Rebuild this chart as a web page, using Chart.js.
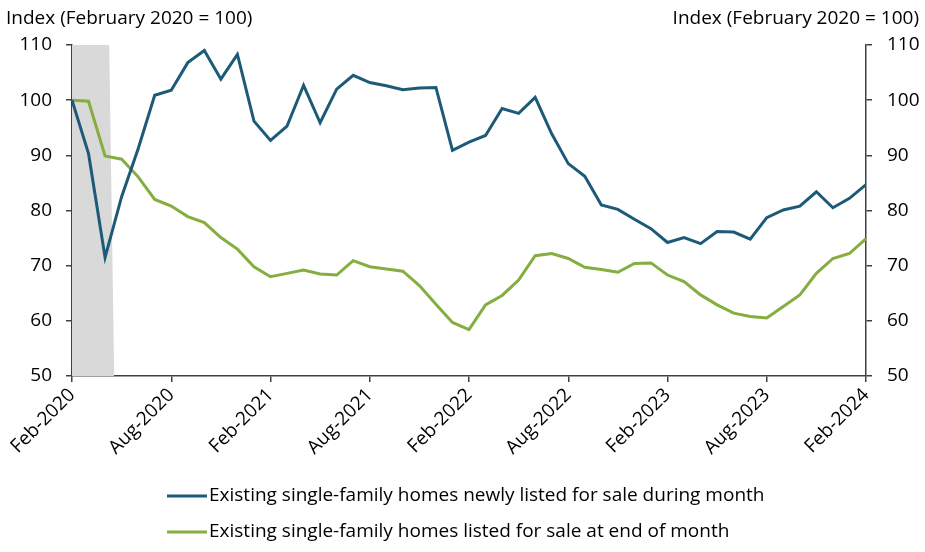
<!DOCTYPE html>
<html>
<head>
<meta charset="utf-8">
<script src="https://cdn.jsdelivr.net/npm/chart.js@4"></script>
<style>
  html, body { margin: 0; padding: 0; background: #fff; }
  #wrap { width: 925px; height: 552px; position: relative; }
</style>
</head>
<body>
<div id="wrap"><canvas id="chart"></canvas></div>
<script>
// Monthly index, Feb-2020 .. Feb-2024 (49 months)
const tickLabels = ['Feb-2020', 'Aug-2020', 'Feb-2021', 'Aug-2021', 'Feb-2022',
  'Aug-2022', 'Feb-2023', 'Aug-2023', 'Feb-2024'];

const newlyListed = [100, 90.3, 71.5, 82.5, 91.2, 100.9, 101.8, 106.8, 109.0, 103.8,
  108.3, 96.2, 92.7, 95.3, 102.7, 95.9, 102.0, 104.5, 103.2, 102.6,
  101.9, 102.2, 102.3, 90.9, 92.4, 93.6, 98.5, 97.6, 100.5, 93.9,
  88.5, 86.2, 81.0, 80.2, 78.4, 76.7, 74.2, 75.1, 74.0, 76.2,
  76.1, 74.8, 78.7, 80.1, 80.8, 83.4, 80.5, 82.2, 84.7];

const endOfMonth = [100, 99.8, 89.9, 89.3, 86.1, 82.0, 80.8, 78.9, 77.8, 75.1,
  73.0, 69.8, 68.0, 68.6, 69.2, 68.5, 68.3, 70.9, 69.8, 69.4,
  69.0, 66.4, 63.0, 59.7, 58.4, 62.9, 64.6, 67.4, 71.8, 72.2,
  71.3, 69.7, 69.3, 68.8, 70.4, 70.5, 68.3, 67.1, 64.7, 62.9,
  61.4, 60.8, 60.5, 62.6, 64.7, 68.6, 71.3, 72.2, 74.9];

// recession shading (month index, index value)
const recessionX = [0, 2.25, 2.55];
const recessionY = [110, 110, 50];

const seriesNames = ['Existing single-family homes newly listed for sale during month',
  'Existing single-family homes listed for sale at end of month'];
const axisTitle = 'Index (February 2020 = 100)';

const BLUE = '#1d5a78';
const GREEN = '#86ad3f';
const AXIS = '#404040';
const FONT = '"Open Sans", "Liberation Sans", sans-serif';
const SIZE = 19;

const toXY = (arr) => arr.map((v, i) => ({ x: i, y: v }));

// axis titles + legend drawn on canvas
const decorations = {
  id: 'decorations',
  afterDraw(chart) {
    const ctx = chart.ctx;
    ctx.save();
    ctx.fillStyle = '#000';
    ctx.font = SIZE + 'px ' + FONT;
    ctx.textBaseline = 'middle';
    ctx.textAlign = 'left';
    ctx.fillText(axisTitle, 6, 19);
    ctx.textAlign = 'right';
    ctx.fillText(axisTitle, 919, 19);

    const colors = [BLUE, GREEN];
    const rows = [496, 532];
    ctx.textAlign = 'left';
    seriesNames.forEach((name, i) => {
      ctx.strokeStyle = colors[i];
      ctx.lineWidth = 3;
      ctx.beginPath();
      ctx.moveTo(167, rows[i]);
      ctx.lineTo(207, rows[i]);
      ctx.stroke();
      ctx.fillStyle = '#000';
      ctx.fillText(name, 209, rows[i]);
    });
    ctx.restore();
  }
};

const yAxis = (position, width, pad) => ({
  type: 'linear',
  position,
  min: 50,
  max: 110,
  afterFit(scale) { scale.width = width; },
  ticks: { stepSize: 10, color: '#000', padding: pad, font: { size: SIZE, family: FONT } },
  grid: { display: true, drawOnChartArea: false, drawTicks: true, tickLength: 6, color: AXIS, lineWidth: 1.5 },
  border: { display: true, color: AXIS, width: 1.5 }
});

new Chart(document.getElementById('chart'), {
  type: 'line',
  data: {
    datasets: [
      {
        label: seriesNames[0],
        data: toXY(newlyListed),
        borderColor: BLUE,
        borderWidth: 3,
        pointRadius: 0,
        tension: 0,
        yAxisID: 'y',
        order: 0
      },
      {
        label: seriesNames[1],
        data: toXY(endOfMonth),
        borderColor: GREEN,
        borderWidth: 3,
        pointRadius: 0,
        tension: 0,
        yAxisID: 'y',
        order: 1
      },
      {
        label: 'Recession',
        data: recessionX.map((x, i) => ({ x, y: recessionY[i] })),
        borderWidth: 0,
        borderColor: 'rgba(0,0,0,0)',
        backgroundColor: '#d9d9d9',
        fill: 'start',
        pointRadius: 0,
        yAxisID: 'y',
        order: 10
      }
    ]
  },
  options: {
    responsive: true,
    maintainAspectRatio: false,
    animation: false,
    layout: { padding: { top: 45, bottom: 0, left: 0, right: 0 } },
    plugins: {
      legend: { display: false },
      tooltip: { enabled: false }
    },
    scales: {
      x: {
        type: 'linear',
        min: 0,
        max: 48,
        afterFit(scale) { scale.height = 176; },
        afterBuildTicks(scale) {
          scale.ticks = tickLabels.map((_, i) => ({ value: i * 6 }));
        },
        ticks: {
          color: '#000',
          minRotation: 45,
          maxRotation: 45,
          padding: 2,
          font: { size: SIZE, family: FONT },
          callback: (v) => tickLabels[v / 6]
        },
        grid: { display: true, drawOnChartArea: false, drawTicks: true, tickLength: 6, color: AXIS, lineWidth: 1.5 },
        border: { display: true, color: AXIS, width: 1.5 }
      },
      y: yAxis('left', 72, 14),
      y2: yAxis('right', 59, 15)
    }
  },
  plugins: [decorations]
});
</script>
</body>
</html>
